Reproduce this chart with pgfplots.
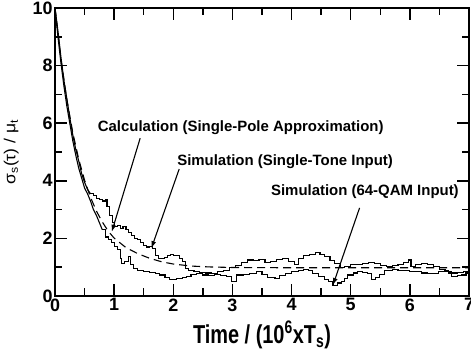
\documentclass[border=0pt]{standalone}
\usepackage{fontspec}
\setmainfont{Liberation Sans}
\usepackage{pgfplots}
\pgfplotsset{compat=1.18}
\usetikzlibrary{arrows.meta}
\begin{document}
\begin{tikzpicture}
\begin{axis}[
  scale only axis,
  width=414bp, height=288bp,
  xmin=0, xmax=7, ymin=0, ymax=10,
  xtick={0,1,...,7}, ytick={0,2,...,10},
  minor x tick num=1, minor y tick num=1,
  tick align=inside,
  major tick length=12bp, minor tick length=7.5bp,
  axis line style={line width=1.8pt},
  every tick/.style={line width=1.5pt, black},
  /pgf/number format/assume math mode=true,
  ticklabel style={font=\fontsize{18}{21}\selectfont\bfseries},
  xticklabel style={yshift=1bp},
  yticklabel style={xshift=1bp},
  xlabel={\scalebox{1}[1.3]{\fontsize{20}{24}\selectfont\bfseries Time / (10\textsuperscript{6}xT\textsubscript{s})}},
  ylabel={\scalebox{1.1}[1]{\fontsize{16}{19}\selectfont σ\textsubscript{s}(τ) / μ\textsubscript{t}}},
  xlabel style={yshift=-3bp},
  ylabel style={yshift=7bp},
  clip=false,
]
\coordinate (ll) at (rel axis cs:0,0);
\coordinate (ur) at (rel axis cs:1,1);
% Calculation (single-pole approximation)
\addplot[black, line width=1.1pt, dash pattern=on 8bp off 5bp] coordinates {
(0,10) (0.1,8.24) (0.2,6.82) (0.3,5.68) (0.4,4.76) (0.5,4.02) (0.6,3.43) (0.7,2.95)
(0.8,2.57) (0.9,2.25) (1.0,2.01) (1.2,1.68) (1.4,1.47) (1.6,1.31) (1.8,1.19)
(2.0,1.11) (2.3,1.04) (2.6,1.01) (3.0,0.99) (4.0,0.98) (5.0,0.98) (6.0,0.98) (7.0,0.98)
};
% Simulation (single-tone input): steep part
\addplot[black, line width=1.1pt] coordinates {
(0,10) (0.05,9.2) (0.1,8.3) (0.15,7.5) (0.2,6.85) (0.25,6.2) (0.3,5.6) (0.35,5.1)
(0.4,4.7) (0.45,4.25) (0.5,3.95) (0.55,3.7) (0.6,3.55)
};
% Simulation (single-tone input): flat part
\addplot[black, line width=1.1pt, const plot] coordinates {
(0.6,3.55) (0.65,3.5) (0.7,3.4) (0.75,3.35)
(0.8,3.3) (0.85,3.35) (0.88,3.1) (0.92,2.8) (0.97,2.55) (1.0,2.4) (1.05,2.45) (1.1,2.35)
(1.15,2.4) (1.2,2.3) (1.25,2.2) (1.3,2.1) (1.35,2.0) (1.4,1.95) (1.45,1.85) (1.5,1.75)
(1.55,1.7) (1.6,1.72) (1.65,1.65) (1.7,1.4) (1.75,1.3) (1.8,1.3) (1.85,1.35) (1.9,1.4)
(1.95,1.45) (2.0,1.42) (2.05,1.4) (2.1,1.3) (2.15,1.2) (2.2,0.95) (2.25,0.88) (2.35,0.84)
(2.45,0.82) (2.55,0.8) (2.65,0.78) (2.75,0.85) (2.85,0.9) (2.95,0.98) (3.05,1.05)
(3.15,1.15) (3.25,1.25) (3.35,1.22) (3.45,1.26) (3.55,1.15) (3.65,1.2) (3.75,1.27)
(3.85,1.3) (3.95,1.2) (4.05,1.08) (4.12,1.3) (4.2,1.42) (4.3,1.45) (4.4,1.52) (4.48,1.45)
(4.56,1.36) (4.65,1.22) (4.73,1.12) (4.82,0.98) (4.9,1.02) (5.0,1.08) (5.1,1.1) (5.2,1.13)
(5.3,1.15) (5.4,1.12) (5.5,1.05) (5.6,1.02) (5.7,1.05) (5.8,1.08) (5.9,1.15) (5.97,1.25)
(6.02,1.03) (6.1,1.08) (6.2,1.14) (6.3,1.1) (6.4,1.02) (6.5,0.92) (6.6,0.85) (6.7,0.8)
(6.8,0.82) (6.9,0.86) (7.0,0.9)
};
% Simulation (64-QAM input): steep part
\addplot[black, line width=1.1pt] coordinates {
(0,10) (0.05,9.0) (0.1,8.1) (0.15,7.3) (0.2,6.6) (0.25,6.0) (0.3,5.4) (0.35,4.9)
(0.4,4.45) (0.45,4.1) (0.5,3.75) (0.55,3.55) (0.6,3.3) (0.65,3.0) (0.7,2.8) (0.75,2.55)
(0.8,2.3)
};
% Simulation (64-QAM input): flat part
\addplot[black, line width=1.1pt, const plot] coordinates {
(0.8,2.3) (0.85,2.05) (0.9,1.95) (0.95,1.85) (1.0,1.72) (1.05,1.6) (1.1,1.3) (1.13,1.13)
(1.18,1.2) (1.24,1.36) (1.28,1.1) (1.33,0.95) (1.4,0.9) (1.5,0.85) (1.6,0.82) (1.7,0.79)
(1.77,0.73) (1.86,0.63) (1.94,0.56) (2.05,0.6) (2.15,0.65) (2.22,0.67) (2.3,0.75)
(2.4,0.78) (2.5,0.73) (2.6,0.72) (2.7,0.74) (2.8,0.7) (2.9,0.67) (2.98,0.5) (3.07,0.73)
(3.18,0.76) (3.29,0.79) (3.4,0.84) (3.5,0.75) (3.6,0.65) (3.72,0.61) (3.8,0.7) (3.89,0.79)
(4.0,0.86) (4.11,0.9) (4.2,0.92) (4.28,0.9) (4.36,0.78) (4.45,0.67) (4.55,0.58) (4.62,0.5)
(4.7,0.38) (4.78,0.45) (4.84,0.5) (4.9,0.62) (4.95,0.73) (5.05,0.8) (5.12,0.84) (5.2,0.82)
(5.28,0.78) (5.35,0.56) (5.42,0.65) (5.48,0.75) (5.57,0.9) (5.7,0.92) (5.8,0.9) (5.9,0.88)
(6.0,0.86) (6.08,0.84) (6.2,0.8) (6.3,0.78) (6.36,0.79) (6.48,0.85) (6.59,0.9) (6.65,0.8)
(6.7,0.67) (6.8,0.7) (6.87,0.73) (6.95,0.8) (7.0,0.84)
};
\node[font=\fontsize{15}{18}\selectfont\bfseries] at (axis cs:3.14,5.83) {Calculation (Single-Pole Approximation)};
\node[font=\fontsize{15}{18}\selectfont\bfseries] at (axis cs:3.89,4.65) {Simulation (Single-Tone Input)};
\node[font=\fontsize{15}{18}\selectfont\bfseries] at (axis cs:5.24,3.61) {Simulation (64-QAM Input)};
\draw[line width=1.1pt, -{Latex[length=7bp,width=5bp]}] (axis cs:1.44,5.48) -- (axis cs:0.96,2.23);
\draw[line width=1.1pt, -{Latex[length=7bp,width=5bp]}] (axis cs:2.10,4.41) -- (axis cs:1.63,1.66);
\draw[line width=1.1pt, -{Latex[length=7bp,width=5bp]}] (axis cs:5.15,3.06) -- (axis cs:4.70,0.38);
\end{axis}
\pgfresetboundingbox
\path[use as bounding box] ([shift={(-55bp,-58bp)}]ll) rectangle ([shift={(2bp,8bp)}]ur);
\end{tikzpicture}
\end{document}
